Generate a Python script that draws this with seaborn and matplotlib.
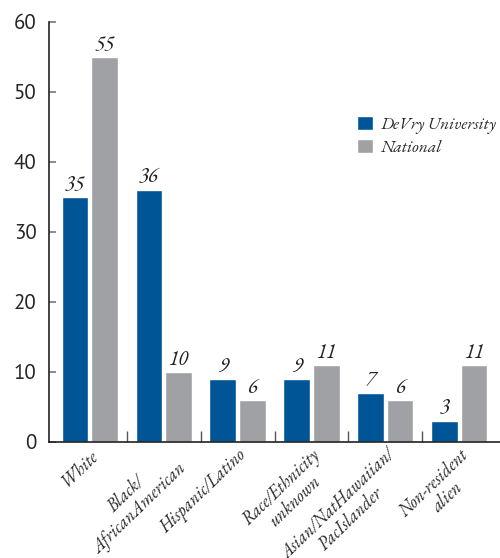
import matplotlib
matplotlib.use("Agg")
import matplotlib.pyplot as plt
import seaborn as sns
import pandas as pd
from matplotlib.ticker import FixedLocator

categories = ["White", "Black/\nAfricanAmerican", "Hispanic/Latino",
              "Race/Ethnicity\nunknown", "Asian/NatHawaiian/\nPacIslander",
              "Non-resident\nalien"]
devry = [35, 36, 9, 9, 7, 3]
national = [55, 10, 6, 11, 6, 11]
series = ["DeVry University", "National"]
colors = ["#005596", "#A0A1A5"]
yticks = [0, 10, 20, 30, 40, 50, 60]

df = pd.DataFrame({
    "category": categories * 2,
    "value": devry + national,
    "series": [series[0]] * len(categories) + [series[1]] * len(categories),
})

sns.set_style("white")
serif = ["EB Garamond", "Liberation Serif", "DejaVu Serif"]
sans = ["PT Sans", "Open Sans", "DejaVu Sans"]

fig = plt.figure(figsize=(5.0, 5.58), dpi=100)
ax = fig.add_axes([0.098, 0.2079, 0.902, 0.7527])

sns.barplot(data=df, x="category", y="value", hue="series",
            palette=colors, width=0.8, gap=0.1, saturation=1,
            order=categories, hue_order=series, ax=ax)

for cont in ax.containers:
    ax.bar_label(cont, padding=1, fontsize=15, color="#222222",
                 family=serif, style="italic")

ax.set_ylim(0, 60)
ax.set_xlim(-0.55, 5.55)
ax.set_yticks(yticks)
ax.set_yticklabels([str(t) for t in yticks], fontfamily=sans, fontsize=15)
ax.tick_params(axis="y", direction="in", length=5, width=1.2,
               color="#777777", pad=9, left=True)

ax.set_xticks(range(len(categories)))
ax.set_xticklabels(categories, rotation=44, ha="right", va="top",
                   rotation_mode="anchor", multialignment="center",
                   fontsize=13, family=serif, style="italic",
                   linespacing=0.95)
ax.tick_params(axis="x", which="major", length=0, pad=3)
ax.xaxis.set_minor_locator(FixedLocator([0.5, 1.5, 2.5, 3.5, 4.5]))
ax.tick_params(axis="x", which="minor", direction="in", length=8,
               width=1, color="#555555", bottom=True)

ax.set_xlabel("")
ax.set_ylabel("")
for s in ["top", "right"]:
    ax.spines[s].set_visible(False)
for s in ["left", "bottom"]:
    ax.spines[s].set_color("#222222")
    ax.spines[s].set_linewidth(1.2)

ax.legend(loc="upper left", bbox_to_anchor=(0.714, 0.793),
          bbox_transform=fig.transFigure, frameon=False,
          handlelength=0.9, handleheight=0.9, handletextpad=0.45,
          labelspacing=0.3, borderpad=0, borderaxespad=0,
          prop={"family": serif, "style": "italic", "size": 12.5})

fig.savefig("out.png", dpi=100)
